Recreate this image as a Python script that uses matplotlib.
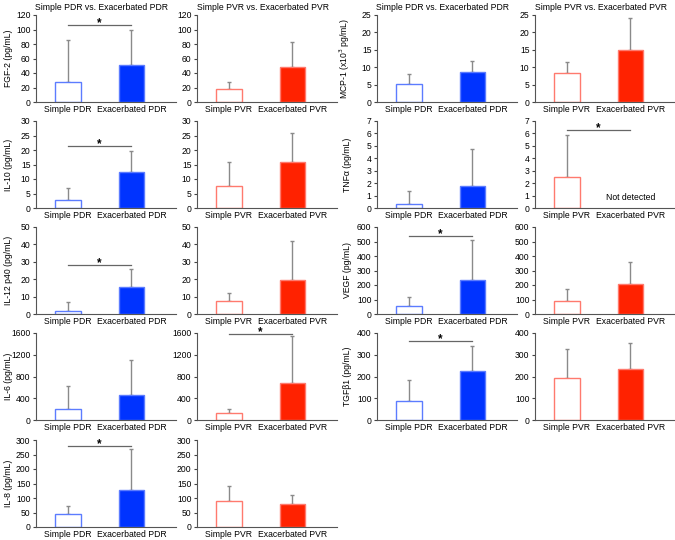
import matplotlib
matplotlib.use("Agg")
import matplotlib.pyplot as plt
import numpy as np

plt.rcParams['font.family'] = ['Liberation Sans', 'DejaVu Sans']

# ---- data ----
left_ylabels = ["FGF-2 (pg/mL)", "IL-10 (pg/mL)", "IL-12 p40 (pg/mL)", "IL-6 (pg/mL)", "IL-8 (pg/mL)"]
left_ymax = [120, 30, 50, 1600, 300]
left_ystep = [20, 5, 10, 400, 50]

right_ylabels = ["MCP-1 (x10$^3$ pg/mL)", "TNFα (pg/mL)", "VEGF (pg/mL)", "TGFβ1 (pg/mL)"]
right_ymax = [25, 7, 600, 400]
right_ystep = [5, 1, 100, 100]

pdr_left_simple = [28, 2.8, 2.0, 210, 45]
pdr_left_simple_sd = [58, 4.0, 4.8, 420, 27]
pdr_left_exac = [51, 12.5, 15.8, 465, 128]
pdr_left_exac_sd = [49, 7.0, 10.0, 645, 140]

pvr_left_simple = [18, 7.6, 7.2, 125, 88]
pvr_left_simple_sd = [9, 8.1, 4.8, 70, 55]
pvr_left_exac = [48, 15.8, 19.8, 680, 78]
pvr_left_exac_sd = [35, 10.0, 22.2, 860, 32]

pdr_right_simple = [5.3, 0.3, 55, 88]
pdr_right_simple_sd = [2.7, 1.1, 63, 97]
pdr_right_exac = [8.6, 1.8, 232, 225]
pdr_right_exac_sd = [3.2, 2.95, 280, 117]

pvr_right_simple = [8.3, 2.5, 88, 193]
pvr_right_simple_sd = [3.1, 3.4, 82, 135]
pvr_right_exac = [14.8, None, 208, 235]
pvr_right_exac_sd = [9.2, None, 154, 117]

# significance bars: (column, row, y)
sig_marks = [(0, 0, 106), (0, 1, 21.5), (0, 2, 28.4), (0, 4, 280),
             (1, 3, 1580), (2, 2, 540), (2, 3, 361), (3, 1, 6.3)]

pdr_labels = ["Simple PDR", "Exacerbated PDR"]
pvr_labels = ["Simple PVR", "Exacerbated PVR"]
col_titles = ["Simple PDR vs. Exacerbated PDR", "Simple PVR vs. Exacerbated PVR",
              "Simple PDR vs. Exacerbated PDR", "Simple PVR vs. Exacerbated PVR"]

# ---- style ----
BLUE = "#0033FF"
BLUE_EDGE = "#5C7CFF"
RED = "#FF2200"
RED_EDGE = "#FF7A6E"
GRAY = "#8a8a8a"
FS = 6.2

fig = plt.figure(figsize=(6.75, 5.4), dpi=100)
col_left = [36, 197, 377, 535]
row_bottom = [102, 208, 314, 420, 527]
ax_w = 140 / 675
ax_h = 87 / 540
ylabel_x = {0: -0.165, 2: -0.18}


def make_ax(c, r):
    return fig.add_axes([col_left[c] / 675, (540 - row_bottom[r]) / 540, ax_w, ax_h])


def draw_panel(ax, c, means, sds, labels, ymax, ystep, kind, ylabel=None):
    x = np.arange(2)
    if kind == "pdr":
        fills = ["white", BLUE]
        edges = [BLUE_EDGE, BLUE_EDGE]
    else:
        fills = ["white", RED]
        edges = [RED_EDGE, RED_EDGE]
    for i in range(2):
        if means[i] is None:
            continue
        ax.bar(x[i], means[i], width=0.4, color=fills[i], edgecolor=edges[i],
               linewidth=1.0, zorder=2)
        ax.errorbar(x[i], means[i], yerr=[[0], [sds[i]]], fmt='none', ecolor=GRAY,
                    elinewidth=1.0, capsize=1.2, capthick=1.0, zorder=1)
    ax.set_xlim(-0.5, 1.7)
    ax.set_ylim(0, ymax)
    ax.set_yticks(np.arange(0, ymax + ystep / 2, ystep))
    ax.set_xticks(x)
    ax.set_xticklabels(labels, fontsize=FS)
    ax.tick_params(axis='x', length=0, pad=2.5)
    ax.tick_params(axis='y', length=2.5, width=0.8, labelsize=FS, pad=1.5, color="#444444")
    for s in ["top", "right"]:
        ax.spines[s].set_visible(False)
    for s in ["left", "bottom"]:
        ax.spines[s].set_color("#555555")
        ax.spines[s].set_linewidth(0.8)
    if ylabel:
        ax.set_ylabel(ylabel, fontsize=FS)
        ax.yaxis.set_label_coords(ylabel_x[c], 0.5)


axes = {}
for r in range(5):
    ax = make_ax(0, r)
    draw_panel(ax, 0, [pdr_left_simple[r], pdr_left_exac[r]], [pdr_left_simple_sd[r], pdr_left_exac_sd[r]],
               pdr_labels, left_ymax[r], left_ystep[r], "pdr", left_ylabels[r])
    axes[(0, r)] = ax
    ax = make_ax(1, r)
    draw_panel(ax, 1, [pvr_left_simple[r], pvr_left_exac[r]], [pvr_left_simple_sd[r], pvr_left_exac_sd[r]],
               pvr_labels, left_ymax[r], left_ystep[r], "pvr")
    axes[(1, r)] = ax
for r in range(4):
    ax = make_ax(2, r)
    draw_panel(ax, 2, [pdr_right_simple[r], pdr_right_exac[r]], [pdr_right_simple_sd[r], pdr_right_exac_sd[r]],
               pdr_labels, right_ymax[r], right_ystep[r], "pdr", right_ylabels[r])
    axes[(2, r)] = ax
    ax = make_ax(3, r)
    draw_panel(ax, 3, [pvr_right_simple[r], pvr_right_exac[r]], [pvr_right_simple_sd[r], pvr_right_exac_sd[r]],
               pvr_labels, right_ymax[r], right_ystep[r], "pvr")
    axes[(3, r)] = ax

# "Not detected"
axes[(3, 1)].text(1, 0.45, "Not detected", ha='center', va='bottom', fontsize=FS)

# significance
for c, r, y in sig_marks:
    ax = axes[(c, r)]
    ax.plot([0, 1], [y, y], color="#666666", lw=0.9, clip_on=False, zorder=3)
    ax.annotate("*", xy=(0.5, y), xytext=(0, -3.0), textcoords="offset points",
                ha='center', va='bottom', fontsize=8.5, fontweight='bold', annotation_clip=False)

# column titles
for c in range(4):
    ax = axes[(c, 0)]
    ax.text(0.47, 1.04, col_titles[c], transform=ax.transAxes, ha='center', va='bottom', fontsize=FS)

fig.savefig("out.png", dpi=100)
